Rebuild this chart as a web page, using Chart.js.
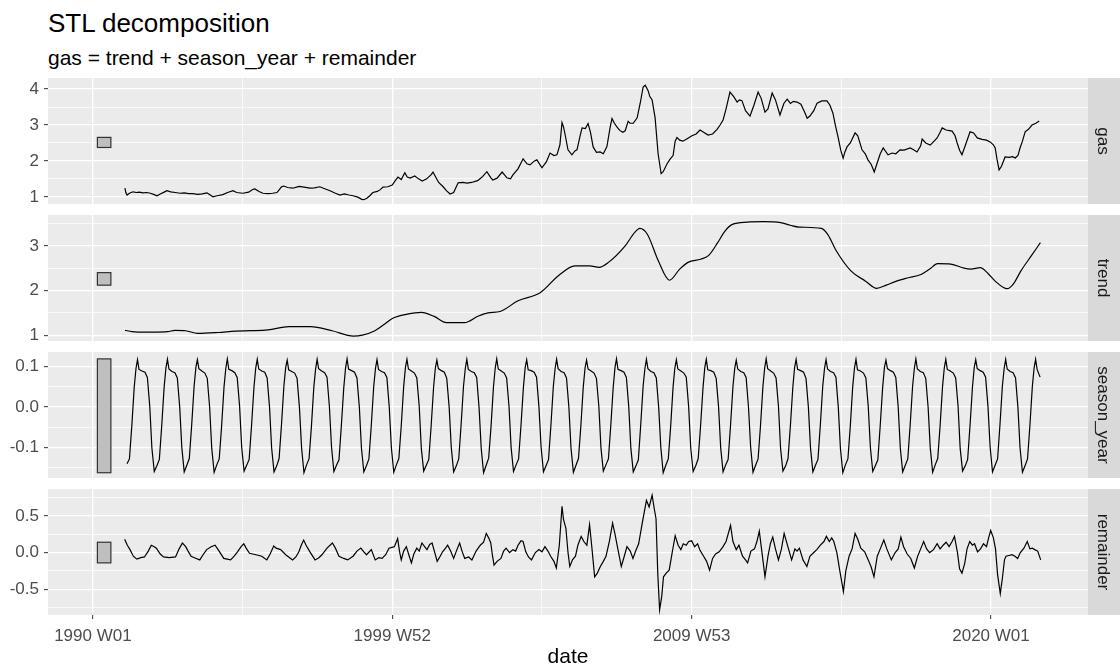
<!DOCTYPE html>
<html>
<head>
<meta charset="utf-8">
<title>STL decomposition</title>
<script src="https://cdn.jsdelivr.net/npm/chart.js@4.4.1/dist/chart.umd.min.js"></script>
<style>
  body { margin: 0; background: #fff; }
  #page { position: relative; width: 1120px; height: 672px; font-family: "Liberation Sans", Arial, sans-serif; }
  .ttl { position: absolute; left: 48px; top: 10px; font-size: 26px; line-height: 26px; color: #000; white-space: nowrap; }
  .sub { position: absolute; left: 48px; top: 47px; font-size: 21px; line-height: 21px; color: #000; white-space: nowrap; }
  canvas { position: absolute; left: 0; }
</style>
</head>
<body>
<div id="page">
  <div class="ttl">STL decomposition</div>
  <div class="sub">gas = trend + season_year + remainder</div>
  <canvas id="gas" width="1120" height="126" style="top:78px"></canvas>
  <canvas id="trend" width="1120" height="126" style="top:215px"></canvas>
  <canvas id="season" width="1120" height="126" style="top:352px"></canvas>
  <canvas id="remainder" width="1120" height="183" style="top:489px"></canvas>
</div>
<script>
// x axis (decimal years) - tick labels are ISO weeks
var xGrid = [1990, 1995, 2000, 2005, 2010, 2015, 2020]
var xMajor = [1990, 2000, 2010, 2020]
var xTickLabels = ['1990 W01', '1999 W52', '2009 W53', '2020 W01']

// gas as [year, value]
var gasObs = [
  [1991.07,1.24],[1991.10,1.12],[1991.14,1.05],[1991.22,1.10],[1991.34,1.14],[1991.45,1.12],[1991.55,1.13],[1991.67,1.11],
  [1991.80,1.12],[1991.92,1.10],[1992.05,1.06],[1992.14,1.03],[1992.25,1.08],[1992.38,1.13],[1992.47,1.17],[1992.60,1.14],
  [1992.75,1.12],[1992.91,1.10],[1993.05,1.11],[1993.20,1.09],[1993.34,1.09],[1993.50,1.07],[1993.65,1.08],[1993.81,1.11],
  [1993.92,1.05],[1994.01,1.00],[1994.15,1.03],[1994.34,1.06],[1994.50,1.12],[1994.68,1.17],[1994.80,1.12],[1995.01,1.10],
  [1995.20,1.13],[1995.35,1.21],[1995.41,1.22],[1995.55,1.15],[1995.68,1.10],[1995.85,1.09],[1996.00,1.10],[1996.15,1.12],
  [1996.30,1.28],[1996.38,1.30],[1996.50,1.26],[1996.68,1.24],[1996.80,1.27],[1996.90,1.29],[1997.05,1.27],[1997.25,1.24],
  [1997.40,1.25],[1997.58,1.28],[1997.70,1.24],[1997.92,1.17],[1998.10,1.10],[1998.25,1.05],[1998.40,1.08],[1998.55,1.05],
  [1998.69,1.03],[1998.85,0.99],[1998.98,0.93],[1999.05,0.92],[1999.15,0.96],[1999.25,1.03],[1999.35,1.12],[1999.50,1.15],
  [1999.60,1.20],[1999.69,1.27],[1999.85,1.28],[2000.00,1.33],[2000.10,1.45],[2000.19,1.55],[2000.30,1.48],[2000.42,1.67],
  [2000.50,1.55],[2000.60,1.52],[2000.75,1.58],[2000.88,1.50],[2001.00,1.44],[2001.15,1.50],[2001.30,1.62],[2001.36,1.69],
  [2001.45,1.55],[2001.55,1.40],[2001.70,1.28],[2001.80,1.18],[2001.93,1.08],[2002.05,1.12],[2002.20,1.39],[2002.35,1.40],
  [2002.50,1.38],[2002.65,1.40],[2002.85,1.45],[2003.00,1.55],[2003.16,1.70],[2003.30,1.52],[2003.36,1.47],[2003.50,1.52],
  [2003.67,1.69],[2003.83,1.53],[2003.95,1.50],[2004.03,1.61],[2004.20,1.78],[2004.37,2.06],[2004.50,1.92],[2004.60,1.89],
  [2004.75,2.00],[2004.83,2.03],[2005.00,1.81],[2005.15,1.98],[2005.27,2.22],[2005.40,2.15],[2005.50,2.17],[2005.60,2.45],
  [2005.67,3.07],[2005.72,2.95],[2005.77,2.75],[2005.87,2.31],[2006.00,2.17],[2006.10,2.28],[2006.17,2.31],[2006.28,2.72],
  [2006.34,2.92],[2006.45,2.90],[2006.54,3.04],[2006.62,2.80],[2006.71,2.39],[2006.82,2.24],[2006.94,2.25],[2007.05,2.20],
  [2007.17,2.40],[2007.28,2.95],[2007.34,3.18],[2007.42,3.05],[2007.51,2.94],[2007.60,2.85],[2007.70,2.80],[2007.78,2.84],
  [2007.88,3.10],[2007.94,3.05],[2008.05,3.05],[2008.18,3.20],[2008.28,3.60],[2008.38,4.06],[2008.45,4.11],[2008.55,3.95],
  [2008.60,3.80],[2008.68,3.70],[2008.78,3.20],[2008.88,2.20],[2008.98,1.65],[2009.05,1.70],[2009.18,1.92],[2009.28,2.05],
  [2009.38,2.15],[2009.45,2.55],[2009.51,2.65],[2009.60,2.58],[2009.71,2.55],[2009.85,2.62],[2010.01,2.70],[2010.15,2.75],
  [2010.28,2.86],[2010.40,2.80],[2010.55,2.72],[2010.70,2.75],[2010.85,2.88],[2010.95,3.00],[2011.05,3.14],[2011.15,3.45],
  [2011.28,3.92],[2011.40,3.80],[2011.52,3.64],[2011.60,3.70],[2011.68,3.68],[2011.80,3.40],[2011.95,3.25],[2012.08,3.55],
  [2012.22,3.92],[2012.32,3.75],[2012.45,3.36],[2012.55,3.45],[2012.69,3.89],[2012.80,3.70],[2012.95,3.28],[2013.08,3.60],
  [2013.19,3.72],[2013.30,3.60],[2013.40,3.66],[2013.52,3.64],[2013.65,3.58],[2013.78,3.35],[2013.86,3.19],[2013.95,3.25],
  [2014.08,3.40],[2014.19,3.61],[2014.35,3.67],[2014.52,3.67],[2014.62,3.55],[2014.72,3.33],[2014.80,3.00],[2014.89,2.67],
  [2014.98,2.30],[2015.06,2.08],[2015.12,2.25],[2015.19,2.39],[2015.30,2.50],[2015.46,2.78],[2015.55,2.70],[2015.69,2.31],
  [2015.80,2.20],[2015.89,2.03],[2016.00,1.90],[2016.10,1.69],[2016.20,1.95],[2016.30,2.20],[2016.40,2.36],[2016.56,2.17],
  [2016.70,2.22],[2016.82,2.20],[2016.96,2.31],[2017.10,2.30],[2017.30,2.36],[2017.40,2.32],[2017.53,2.25],[2017.65,2.42],
  [2017.70,2.61],[2017.82,2.50],[2017.97,2.44],[2018.10,2.55],[2018.20,2.64],[2018.30,2.80],[2018.37,2.92],[2018.50,2.86],
  [2018.70,2.83],[2018.80,2.70],[2018.87,2.50],[2018.95,2.30],[2019.03,2.17],[2019.15,2.45],[2019.30,2.81],[2019.42,2.78],
  [2019.54,2.64],[2019.70,2.60],[2019.85,2.58],[2019.97,2.53],[2020.08,2.45],[2020.14,2.36],[2020.20,2.05],[2020.27,1.75],
  [2020.35,1.85],[2020.47,2.11],[2020.60,2.10],[2020.72,2.12],[2020.81,2.08],[2020.90,2.15],[2020.97,2.36],[2021.05,2.55],
  [2021.14,2.81],[2021.25,2.88],[2021.37,3.00],[2021.50,3.05],[2021.61,3.11]
]

var trendObs = [
  [1991.07,1.11],[1991.30,1.08],[1991.49,1.07],[1992.00,1.07],[1992.50,1.08],[1992.74,1.11],[1993.10,1.10],[1993.50,1.04],
  [1994.18,1.06],[1994.77,1.09],[1995.30,1.10],[1995.85,1.12],[1996.55,1.19],[1997.27,1.19],[1997.99,1.10],[1998.70,0.98],
  [1999.00,1.00],[1999.42,1.10],[1999.75,1.25],[2000.02,1.38],[2000.50,1.47],[2000.97,1.51],[2001.40,1.42],[2001.81,1.28],
  [2002.41,1.28],[2002.88,1.43],[2003.20,1.50],[2003.60,1.53],[2004.20,1.77],[2004.94,1.95],[2005.55,2.33],[2006.10,2.55],
  [2006.60,2.55],[2006.91,2.52],[2007.22,2.63],[2007.78,3.00],[2008.10,3.30],[2008.27,3.39],[2008.52,3.26],[2008.89,2.66],
  [2009.26,2.23],[2009.60,2.48],[2009.88,2.63],[2010.30,2.70],[2010.56,2.78],[2010.87,3.07],[2011.10,3.32],[2011.36,3.48],
  [2011.86,3.53],[2012.40,3.54],[2012.97,3.52],[2013.30,3.46],[2013.59,3.42],[2014.33,3.39],[2014.55,3.25],[2014.83,2.89],
  [2015.32,2.44],[2015.81,2.21],[2016.18,2.05],[2016.50,2.12],[2016.80,2.20],[2017.20,2.28],[2017.66,2.36],[2017.95,2.48],
  [2018.22,2.60],[2018.66,2.59],[2019.10,2.50],[2019.33,2.48],[2019.64,2.51],[2019.90,2.38],[2020.14,2.21],[2020.54,2.04],
  [2020.75,2.15],[2021.00,2.44],[2021.35,2.78],[2021.65,3.07]
]

// season_year: one row per year, values at the fractions of the year below
var seasonYears = [1991,1992,1993,1994,1995,1996,1997,1998,1999,2000,2001,2002,2003,2004,2005,2006,
  2007,2008,2009,2010,2011,2012,2013,2014,2015,2016,2017,2018,2019,2020,2021]
var seasonFrac = [0.05, 0.14, 0.22, 0.30, 0.38, 0.44, 0.49, 0.54, 0.64, 0.74, 0.82, 0.90, 0.97]
var seasonRows = [
  [null,  -0.140,-0.128,-0.046,0.049,0.096,0.117,0.093,0.089,0.086,0.073, 0.001,-0.101],
  [-0.159,-0.144,-0.129,-0.045,0.050,0.097,0.118,0.094,0.088,0.085,0.072, 0.000,-0.100],
  [-0.160,-0.143,-0.127,-0.044,0.051,0.098,0.117,0.095,0.089,0.084,0.071,-0.001,-0.102],
  [-0.161,-0.142,-0.128,-0.046,0.050,0.096,0.119,0.093,0.090,0.085,0.073, 0.002,-0.099],
  [-0.158,-0.143,-0.129,-0.045,0.049,0.097,0.118,0.094,0.089,0.086,0.072, 0.000,-0.101],
  [-0.160,-0.145,-0.127,-0.043,0.052,0.098,0.116,0.092,0.088,0.084,0.071,-0.002,-0.100],
  [-0.162,-0.142,-0.128,-0.047,0.050,0.095,0.118,0.095,0.089,0.085,0.074, 0.001,-0.098],
  [-0.159,-0.143,-0.130,-0.045,0.048,0.097,0.119,0.094,0.090,0.086,0.072, 0.000,-0.101],
  [-0.160,-0.144,-0.128,-0.044,0.051,0.096,0.117,0.093,0.088,0.085,0.073,-0.001,-0.100],
  [-0.161,-0.142,-0.127,-0.046,0.050,0.098,0.118,0.094,0.089,0.084,0.072, 0.002,-0.102],
  [-0.158,-0.143,-0.129,-0.045,0.049,0.097,0.116,0.095,0.090,0.086,0.071, 0.000,-0.099],
  [-0.160,-0.145,-0.128,-0.043,0.052,0.096,0.118,0.093,0.088,0.085,0.073,-0.002,-0.101],
  [-0.162,-0.143,-0.126,-0.047,0.050,0.097,0.119,0.094,0.089,0.084,0.072, 0.001,-0.100],
  [-0.159,-0.142,-0.128,-0.045,0.048,0.098,0.117,0.092,0.090,0.086,0.074, 0.000,-0.098],
  [-0.160,-0.144,-0.129,-0.044,0.051,0.096,0.118,0.095,0.088,0.085,0.072,-0.001,-0.101],
  [-0.161,-0.143,-0.127,-0.046,0.050,0.097,0.116,0.094,0.089,0.084,0.071, 0.002,-0.100],
  [-0.158,-0.142,-0.128,-0.045,0.049,0.098,0.119,0.093,0.090,0.086,0.073, 0.000,-0.102],
  [-0.160,-0.145,-0.130,-0.043,0.052,0.096,0.118,0.095,0.088,0.085,0.072,-0.002,-0.099],
  [-0.162,-0.143,-0.128,-0.047,0.050,0.097,0.117,0.094,0.089,0.084,0.074, 0.001,-0.101],
  [-0.159,-0.144,-0.127,-0.045,0.048,0.098,0.118,0.092,0.090,0.086,0.071, 0.000,-0.100],
  [-0.160,-0.142,-0.129,-0.044,0.051,0.096,0.116,0.094,0.088,0.085,0.073,-0.001,-0.098],
  [-0.161,-0.143,-0.128,-0.046,0.050,0.097,0.119,0.095,0.089,0.084,0.072, 0.002,-0.101],
  [-0.158,-0.145,-0.127,-0.045,0.049,0.098,0.118,0.093,0.090,0.086,0.071, 0.000,-0.100],
  [-0.160,-0.143,-0.129,-0.043,0.052,0.096,0.117,0.094,0.088,0.085,0.074,-0.002,-0.102],
  [-0.162,-0.142,-0.128,-0.047,0.050,0.097,0.118,0.092,0.089,0.084,0.072, 0.001,-0.099],
  [-0.159,-0.144,-0.130,-0.045,0.048,0.098,0.116,0.095,0.090,0.086,0.073, 0.000,-0.101],
  [-0.160,-0.143,-0.128,-0.044,0.051,0.096,0.119,0.094,0.088,0.085,0.071,-0.001,-0.100],
  [-0.161,-0.142,-0.127,-0.046,0.050,0.097,0.118,0.093,0.089,0.084,0.072, 0.002,-0.102],
  [-0.158,-0.145,-0.129,-0.045,0.049,0.098,0.117,0.095,0.090,0.086,0.074, 0.000,-0.098],
  [-0.160,-0.143,-0.128,-0.043,0.052,0.096,0.118,0.094,0.088,0.085,0.072,-0.002,-0.101],
  [-0.161,-0.144,-0.128,-0.045,0.050,0.097,0.118,0.093,0.074]
]

var remainderObs = [
  [1991.06,0.18],[1991.15,0.10],[1991.24,0.04],[1991.35,-0.05],[1991.47,-0.09],[1991.60,-0.07],[1991.72,-0.06],[1991.85,0.02],
  [1991.95,0.10],[1992.05,0.08],[1992.12,0.06],[1992.25,-0.02],[1992.36,-0.06],[1992.55,-0.07],[1992.76,-0.06],[1992.88,0.05],
  [1992.99,0.13],[1993.10,0.08],[1993.18,0.02],[1993.28,-0.05],[1993.45,-0.08],[1993.57,-0.10],[1993.68,-0.03],[1993.80,0.04],
  [1993.95,0.08],[1994.08,0.10],[1994.20,0.03],[1994.37,-0.08],[1994.60,-0.10],[1994.72,-0.05],[1994.83,0.01],[1994.95,0.08],
  [1995.04,0.12],[1995.12,0.06],[1995.23,-0.01],[1995.45,-0.03],[1995.64,-0.05],[1995.81,-0.10],[1995.92,-0.02],[1996.04,0.09],
  [1996.12,0.06],[1996.27,0.04],[1996.44,-0.03],[1996.67,-0.10],[1996.78,-0.06],[1996.88,0.01],[1996.96,0.10],[1997.04,0.17],
  [1997.12,0.10],[1997.25,0.01],[1997.42,-0.10],[1997.55,-0.07],[1997.65,-0.03],[1997.82,0.06],[1998.00,0.13],[1998.10,0.06],
  [1998.22,-0.05],[1998.38,-0.08],[1998.51,-0.10],[1998.69,-0.05],[1998.82,0.02],[1998.95,0.06],[1999.05,0.01],[1999.14,-0.03],
  [1999.30,0.04],[1999.43,-0.10],[1999.55,-0.07],[1999.66,-0.08],[1999.78,-0.03],[1999.89,0.06],[2000.07,0.08],[2000.18,0.19],
  [2000.24,0.02],[2000.30,-0.10],[2000.38,0.02],[2000.47,0.08],[2000.56,-0.04],[2000.64,-0.14],[2000.72,-0.02],[2000.82,0.06],
  [2000.90,0.02],[2000.99,0.13],[2001.08,0.08],[2001.16,0.04],[2001.25,0.11],[2001.33,0.13],[2001.42,0.00],[2001.50,-0.12],
  [2001.60,-0.05],[2001.68,0.01],[2001.78,0.06],[2001.85,0.10],[2001.95,0.02],[2002.05,-0.08],[2002.15,0.03],[2002.25,0.13],
  [2002.33,0.02],[2002.42,-0.08],[2002.55,-0.06],[2002.66,-0.10],[2002.80,0.02],[2002.94,0.10],[2003.05,0.14],[2003.14,0.26],
  [2003.22,0.20],[2003.29,0.13],[2003.35,-0.05],[2003.40,-0.17],[2003.50,-0.12],[2003.63,-0.08],[2003.72,0.02],[2003.80,0.06],
  [2003.92,0.00],[2004.03,0.04],[2004.12,0.02],[2004.20,0.10],[2004.30,0.16],[2004.37,0.15],[2004.46,0.01],[2004.55,-0.06],
  [2004.65,-0.10],[2004.78,0.00],[2004.90,0.04],[2005.00,0.01],[2005.10,0.08],[2005.20,0.02],[2005.29,-0.05],[2005.40,-0.12],
  [2005.48,-0.21],[2005.58,0.10],[2005.67,0.63],[2005.72,0.45],[2005.80,0.33],[2005.87,0.00],[2005.93,-0.19],[2006.02,-0.10],
  [2006.12,-0.05],[2006.20,0.10],[2006.31,0.22],[2006.40,0.15],[2006.50,0.10],[2006.59,0.38],[2006.66,0.10],[2006.76,-0.33],
  [2006.85,-0.28],[2006.95,-0.19],[2007.05,-0.12],[2007.14,-0.05],[2007.25,0.15],[2007.36,0.40],[2007.44,0.25],[2007.52,0.08],
  [2007.65,-0.19],[2007.75,-0.05],[2007.84,0.08],[2007.95,0.02],[2008.04,-0.08],[2008.13,0.02],[2008.23,0.12],[2008.35,0.40],
  [2008.49,0.71],[2008.58,0.62],[2008.68,0.78],[2008.75,0.60],[2008.81,0.46],[2008.87,-0.30],[2008.93,-0.78],[2009.00,-0.60],
  [2009.06,-0.33],[2009.15,-0.28],[2009.25,-0.24],[2009.35,0.00],[2009.45,0.23],[2009.55,0.10],[2009.64,0.04],[2009.72,0.12],
  [2009.82,0.10],[2009.90,0.15],[2010.00,0.16],[2010.10,0.08],[2010.20,0.12],[2010.28,0.03],[2010.40,-0.05],[2010.50,-0.12],
  [2010.60,-0.24],[2010.70,-0.08],[2010.80,-0.02],[2010.92,0.01],[2011.05,0.08],[2011.15,0.15],[2011.30,0.37],[2011.38,0.15],
  [2011.49,0.04],[2011.58,0.10],[2011.70,-0.05],[2011.80,-0.10],[2011.87,-0.14],[2011.98,0.02],[2012.10,0.05],[2012.18,0.15],
  [2012.26,0.29],[2012.35,0.00],[2012.45,-0.33],[2012.55,-0.05],[2012.63,0.12],[2012.71,0.21],[2012.80,0.05],[2012.90,-0.10],
  [2013.00,0.05],[2013.09,0.26],[2013.20,0.10],[2013.34,-0.10],[2013.45,0.05],[2013.52,0.02],[2013.60,0.06],[2013.72,-0.10],
  [2013.85,-0.19],[2013.95,-0.05],[2014.08,0.00],[2014.18,0.04],[2014.30,0.10],[2014.42,0.15],[2014.50,0.22],[2014.60,0.15],
  [2014.68,0.20],[2014.75,0.15],[2014.85,0.00],[2014.95,-0.25],[2015.07,-0.53],[2015.15,-0.25],[2015.26,-0.05],[2015.36,0.05],
  [2015.46,0.26],[2015.55,0.18],[2015.65,0.06],[2015.78,0.01],[2015.90,-0.10],[2016.00,-0.20],[2016.09,-0.33],[2016.20,-0.05],
  [2016.30,0.05],[2016.42,0.17],[2016.52,0.05],[2016.67,-0.10],[2016.80,0.00],[2016.90,0.05],[2016.99,0.21],[2017.08,0.08],
  [2017.20,-0.02],[2017.32,-0.08],[2017.44,-0.21],[2017.55,-0.05],[2017.65,0.05],[2017.75,0.15],[2017.85,0.05],[2017.95,0.00],
  [2018.08,0.04],[2018.20,0.12],[2018.30,0.05],[2018.40,0.10],[2018.50,0.14],[2018.60,0.08],[2018.70,0.15],[2018.78,0.22],
  [2018.88,0.00],[2018.95,-0.22],[2019.03,-0.28],[2019.12,-0.15],[2019.20,0.05],[2019.29,0.15],[2019.38,0.10],[2019.45,0.12],
  [2019.55,0.01],[2019.65,0.05],[2019.75,0.12],[2019.85,0.08],[2019.92,0.20],[2019.99,0.30],[2020.08,0.20],[2020.15,0.05],
  [2020.22,-0.30],[2020.31,-0.56],[2020.38,-0.35],[2020.45,-0.10],[2020.50,-0.05],[2020.60,-0.04],[2020.70,-0.03],[2020.80,-0.05],
  [2020.89,-0.08],[2020.98,0.00],[2021.10,0.06],[2021.21,0.15],[2021.30,0.05],[2021.38,0.06],[2021.46,0.04],[2021.56,0.02],
  [2021.66,-0.10]
]

// y axis breaks and labels per panel
var gasMajor = [1, 2, 3, 4], gasMinor = [1.5, 2.5, 3.5]
var gasTickLabels = ['1', '2', '3', '4']
var trendMajor = [1, 2, 3], trendMinor = [1.5, 2.5, 3.5]
var trendTickLabels = ['1', '2', '3']
var seasonMajor = [-0.1, 0, 0.1], seasonMinor = [-0.15, -0.05, 0.05]
var seasonTickLabels = ['-0.1', '0.0', '0.1']
var remMajor = [-0.5, 0, 0.5], remMinor = [-0.75, -0.25, 0.25, 0.75]
var remTickLabels = ['-0.5', '0.0', '0.5']

var FONT = '"Liberation Sans", Arial, sans-serif'
Chart.defaults.font.family = FONT

function toPoints(obs){
    return obs.map(function(p){ return {x: p[0], y: p[1]} })
}

var seasonPoints = []
seasonRows.forEach(function(row, i){
    row.forEach(function(v, j){
        if (v !== null) seasonPoints.push({x: seasonYears[i] + seasonFrac[j], y: v})
    })
})

function near(list, v){
    for (var i = 0; i < list.length; i++){
        if (Math.abs(list[i] - v) < 1e-9) return i
    }
    return -1
}

// scale bars all get the height of the smallest range (season_year)
var sv = seasonPoints.map(function(p){ return p.y })
var barHalf = (Math.max.apply(null, sv) - Math.min.apply(null, sv)) / 2
var barFrom = 1990.15, barTo = 1990.6

var ggPanel = {
    id: 'ggPanel',
    beforeDraw: function(chart, args, o){
        var a = chart.chartArea, ctx = chart.ctx
        ctx.save()
        ctx.fillStyle = '#EBEBEB'
        ctx.fillRect(a.left, a.top, a.right - a.left, a.bottom - a.top)
        ctx.fillStyle = '#D9D9D9'
        ctx.fillRect(a.right, a.top, chart.width - a.right, a.bottom - a.top)
        ctx.translate(a.right + 15, (a.top + a.bottom) / 2)
        ctx.rotate(Math.PI / 2)
        ctx.fillStyle = '#1A1A1A'
        ctx.font = '17px ' + FONT
        ctx.textAlign = 'center'
        ctx.textBaseline = 'middle'
        ctx.fillText(o.strip, 0, 0)
        ctx.restore()
    },
    afterDatasetsDraw: function(chart, args, o){
        var xs = chart.scales.x, ys = chart.scales.y, ctx = chart.ctx
        var x0 = xs.getPixelForValue(barFrom), x1 = xs.getPixelForValue(barTo)
        var y0 = ys.getPixelForValue(o.mid + barHalf), y1 = ys.getPixelForValue(o.mid - barHalf)
        ctx.save()
        ctx.fillStyle = '#BFBFBF'
        ctx.strokeStyle = '#333333'
        ctx.lineWidth = 1.2
        ctx.fillRect(x0, y0, x1 - x0, y1 - y0)
        ctx.strokeRect(x0, y0, x1 - x0, y1 - y0)
        ctx.restore()
    }
}

function xScale(bottom){
    return {
        type: 'linear', min: 1988.5, max: 2023.24,
        afterBuildTicks: function(s){ s.ticks = xGrid.map(function(v){ return {value: v} }) },
        afterFit: function(s){ s.height = bottom ? 57 : 0; s.paddingLeft = 0; s.paddingRight = 0 },
        border: {display: false},
        grid: {
            color: '#FFFFFF',
            lineWidth: function(c){ return near(xMajor, c.tick.value) >= 0 ? 1.3 : 0.7 },
            drawTicks: bottom,
            tickLength: 4, tickWidth: 1,
            tickColor: function(c){ return near(xMajor, c.tick.value) >= 0 ? '#333333' : 'rgba(0,0,0,0)' }
        },
        ticks: {
            display: bottom, autoSkip: false, maxRotation: 0, padding: 7,
            color: '#4D4D4D', font: {size: 17},
            callback: function(v){ var i = near(xMajor, v); return i >= 0 ? xTickLabels[i] : '' }
        },
        title: {display: bottom, text: 'date', color: '#000000', font: {size: 21}, padding: {top: 2, bottom: 2}}
    }
}

function yScale(min, max, major, minor, labels){
    var all = major.concat(minor).sort(function(a, b){ return a - b })
    return {
        type: 'linear', position: 'left', min: min, max: max,
        afterBuildTicks: function(s){ s.ticks = all.map(function(v){ return {value: v} }) },
        afterFit: function(s){ s.width = 48; s.paddingTop = 0; s.paddingBottom = 0 },
        border: {display: false},
        grid: {
            color: '#FFFFFF',
            lineWidth: function(c){ return near(major, c.tick.value) >= 0 ? 1.3 : 0.7 },
            tickLength: 4, tickWidth: 1,
            tickColor: function(c){ return near(major, c.tick.value) >= 0 ? '#333333' : 'rgba(0,0,0,0)' }
        },
        ticks: {
            autoSkip: false, padding: 5, color: '#4D4D4D', font: {size: 17},
            callback: function(v){ var i = near(major, v); return i >= 0 ? labels[i] : '' }
        }
    }
}

function makePanel(id, points, strip, y, bottom, smooth){
    var vals = points.map(function(p){ return p.y })
    var mid = (Math.min.apply(null, vals) + Math.max.apply(null, vals)) / 2
    return new Chart(document.getElementById(id), {
        type: 'line',
        data: {datasets: [{
            data: points, borderColor: '#000000', borderWidth: 1.2,
            pointRadius: 0, fill: false, tension: 0,
            cubicInterpolationMode: smooth ? 'monotone' : 'default'
        }]},
        options: {
            responsive: false, animation: false, events: [],
            layout: {padding: {left: 0, right: 32, top: 0, bottom: 0}},
            plugins: {legend: {display: false}, tooltip: {enabled: false}, ggPanel: {strip: strip, mid: mid}},
            scales: {x: xScale(bottom), y: y}
        },
        plugins: [ggPanel]
    })
}

makePanel('gas', toPoints(gasObs), 'gas', yScale(0.80, 4.31, gasMajor, gasMinor, gasTickLabels), false, false)
makePanel('trend', toPoints(trendObs), 'trend', yScale(0.87, 3.69, trendMajor, trendMinor, trendTickLabels), false, true)
makePanel('season', seasonPoints, 'season_year', yScale(-0.175, 0.136, seasonMajor, seasonMinor, seasonTickLabels), false, false)
makePanel('remainder', toPoints(remainderObs), 'remainder', yScale(-0.85, 0.865, remMajor, remMinor, remTickLabels), true, false)
</script>
</body>
</html>
